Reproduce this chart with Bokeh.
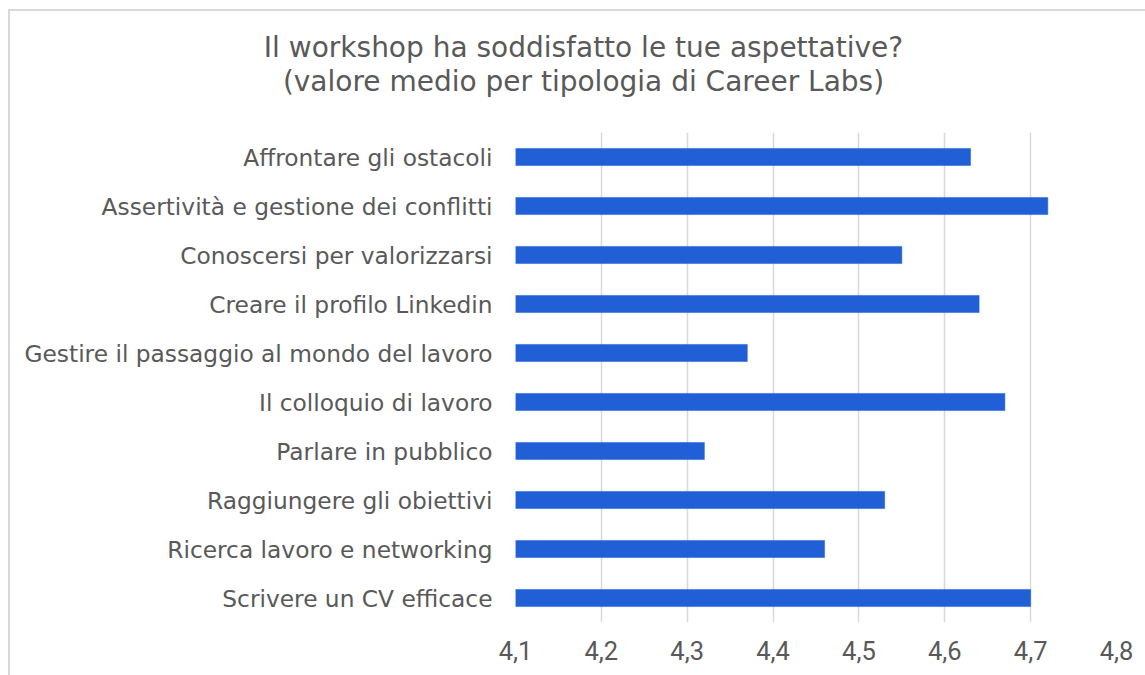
from bokeh.plotting import figure
from bokeh.models import FactorRange, FixedTicker, CustomJSTickFormatter, Div
from bokeh.layouts import column
from bokeh.embed import file_html
from bokeh.resources import INLINE

categories = [
    "Affrontare gli ostacoli",
    "Assertività e gestione dei conflitti",
    "Conoscersi per valorizzarsi",
    "Creare il profilo Linkedin",
    "Gestire il passaggio al mondo del lavoro",
    "Il colloquio di lavoro",
    "Parlare in pubblico",
    "Raggiungere gli obiettivi",
    "Ricerca lavoro e networking",
    "Scrivere un CV efficace",
]
values = [4.63, 4.72, 4.55, 4.64, 4.37, 4.67, 4.32, 4.53, 4.46, 4.70]
x_ticks = [4.1, 4.2, 4.3, 4.4, 4.5, 4.6, 4.7, 4.8]
title_lines = ["Il workshop ha soddisfatto le tue aspettative?",
               "(valore medio per tipologia di Career Labs)"]

W = 1137
TH = 123            # height of the title strip
PH = 666 - TH       # height of the chart itself
BORDER = "2px solid #d9d9d9"

# ---- title strip (real HTML text) ---------------------------------------
title = Div(text="<br>".join(title_lines), width=W, height=TH, margin=0,
            styles={"border-left": BORDER, "border-top": BORDER,
                    "box-sizing": "border-box", "text-align": "center",
                    "padding-left": "12px", "padding-top": "20px",
                    "font-family": "'DejaVu Sans'", "font-size": "28px",
                    "line-height": "34px", "color": "#595959",
                    "white-space": "nowrap", "background": "white"})

# ---- chart ---------------------------------------------------------------
p = figure(width=W, height=PH, output_backend="svg", toolbar_location=None,
           y_range=FactorRange(factors=list(reversed(categories))),
           x_range=(4.1, 4.8),
           min_border_left=505, min_border_right=31,
           min_border_top=0, min_border_bottom=53)
p.styles = {"border-left": BORDER, "box-sizing": "border-box"}
p.outline_line_color = None
p.background_fill_color = "white"

p.hbar(y=categories, left=4.1, right=values, height=0.35,
       fill_color="#215FD7", line_color="#215FD7", line_width=0.5)

p.xaxis.ticker = FixedTicker(ticks=x_ticks)
p.xaxis.formatter = CustomJSTickFormatter(code="return tick.toFixed(1).replace('.', ',');")
p.xaxis.axis_line_color = None
p.xaxis.major_tick_line_color = None
p.xaxis.minor_tick_line_color = None
p.xaxis.major_label_text_font = "Roboto"
p.xaxis.major_label_text_font_size = "25.5px"
p.xaxis.major_label_text_color = "#595959"
p.xaxis.major_label_standoff = 12

p.yaxis.axis_line_color = None
p.yaxis.major_tick_line_color = None
p.yaxis.minor_tick_line_color = None
p.yaxis.major_label_text_font = "DejaVu Sans"
p.yaxis.major_label_text_font_size = "23.3px"
p.yaxis.major_label_text_color = "#595959"
p.yaxis.major_label_standoff = 17

p.xgrid.grid_line_color = "#d9d9d9"
p.xgrid.grid_line_width = 1.5
p.ygrid.grid_line_color = None

layout = column(title, p, spacing=0)
layout.margin = (9, 0, 0, 8)

open("out.html", "w").write(file_html(layout, INLINE))
